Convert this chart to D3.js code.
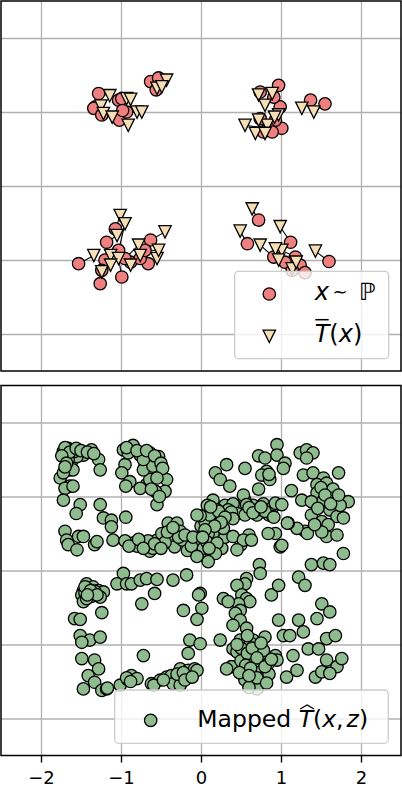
<!DOCTYPE html>
<html>
<head>
<meta charset="utf-8">
<script src="https://cdn.jsdelivr.net/npm/d3@7"></script>
<style>
  body { margin: 0; background: #fff; }
  svg { display: block; font-family: "DejaVu Sans", sans-serif; }
</style>
</head>
<body>
<div id="main"></div>
<script>
// ticks shared by both panels
const xTicks = [-2, -1, 0, 1, 2];
const yTicks = [-2, -1, 0, 1, 2];

// x ~ P, one row per sample
const samples = [
  [-1.28,1.25],[-1.32,1.07],[-1.34,1.05],[-1.24,0.96],[-1.03,1.16],[-0.99,1.18],[-1.02,0.89],[-0.93,1.00],[-0.98,1.02],[-0.63,1.41],[-0.53,1.46],[-0.56,1.30],
  [0.74,1.27],[0.97,1.36],[0.99,1.07],[1.01,0.78],[0.74,0.91],[1.37,1.16],[1.55,1.11],[0.91,1.20],[0.93,0.89],[0.84,0.78],[0.78,0.73],[0.89,0.73],
  [-1.53,-1.05],[-1.26,-1.32],[-1.07,-0.58],[-1.18,-0.76],[-1.20,-1.00],[-0.99,-1.23],[-0.88,-1.03],[-0.66,-1.05],[-0.63,-0.73],[-1.24,-1.14],[-1.03,-0.87],[-0.95,-0.98],[-0.76,-0.98],[-0.70,-0.87],
  [0.72,-0.46],[0.58,-0.78],[1.12,-0.76],[0.91,-0.96],[1.18,-0.96],[1.60,-1.02],[1.05,-1.03],[1.24,-1.07],[1.14,-1.14],[1.30,-1.17]
];

// T(x), same order as samples
const mapped = [
  [-1.14,1.22],[-1.25,1.08],[-1.22,0.98],[-1.11,0.93],[-0.93,1.18],[-0.88,1.17],[-0.91,0.82],[-0.80,1.00],[-0.74,1.00],[-0.55,1.32],[-0.43,1.43],[-0.49,1.34],
  [0.72,1.23],[0.89,1.25],[0.97,0.96],[0.83,0.82],[0.72,0.89],[1.26,1.05],[1.41,1.00],[0.80,1.09],[0.92,0.93],[0.55,0.82],[0.68,0.71],[0.80,0.71],
  [-1.34,-0.94],[-1.24,-1.16],[-1.01,-0.40],[-1.05,-0.67],[-1.13,-0.94],[-1.03,-0.98],[-0.88,-1.07],[-0.55,-0.98],[-0.45,-0.62],[-1.13,-1.07],[-0.95,-0.51],[-0.78,-0.80],[-0.76,-0.94],[-0.53,-0.87],
  [0.64,-0.31],[0.49,-0.61],[0.99,-0.55],[0.74,-0.80],[1.01,-0.87],[1.43,-0.88],[0.93,-0.85],[0.97,-1.00],[1.14,-1.12],[1.19,-1.03]
];

// T(x, z), bottom panel
const generated = [
  [-1.72,1.61],[-1.66,1.65],[-1.60,1.63],[-1.53,1.59],[-1.47,1.56],[-1.37,1.63],[-1.28,1.50],[-1.26,1.36],[-1.62,1.47],[-1.64,1.36],[-1.60,1.36],[-1.76,1.25],[-1.72,1.32],[-1.64,1.14],[-1.70,1.11],[-1.72,0.95],[-1.51,0.89],[-1.56,0.77],[-1.26,0.89],[-1.22,0.71],[-1.12,0.68],[-1.12,0.59],[-0.94,0.72],[-1.70,0.53],[-1.68,0.41],[-1.66,0.35],[-1.55,0.28],[-1.53,0.46],[-1.47,0.46],[-1.33,0.35],[-1.30,0.39],[-1.10,0.41],[-1.68,1.59],[-1.62,1.56],[-1.55,1.54],[-1.66,1.50],[-1.58,1.61],[-1.60,1.14],
  [-1.70,1.66],[-1.64,1.60],[-1.56,1.65],[-1.50,1.62],[-1.42,1.60],[-1.34,1.58],[-1.74,1.55],[-1.68,1.45],[-1.70,1.40],
  [-0.97,1.63],[-0.85,1.69],[-0.95,1.43],[-0.99,1.32],[-0.89,1.20],[-0.94,1.14],[-0.76,1.56],[-0.70,1.45],[-0.64,1.59],[-0.60,1.47],[-0.53,1.54],[-0.60,1.34],[-0.51,1.32],[-0.43,1.23],[-0.45,1.07],[-0.57,1.07],[-0.55,0.89],[-0.68,1.16],[-0.76,1.11],[-0.64,1.23],[-0.72,1.36],[-0.60,1.41],[-0.91,1.59],[-0.72,1.50],
  [-0.93,1.66],[-0.80,1.62],[-0.68,1.62],[-0.58,1.55],[-0.50,1.45],[-0.48,1.38],[-0.55,1.25],[-0.62,1.10],[-0.52,1.00],
  [-0.85,0.37],[-0.76,0.37],[-0.70,0.35],[-0.64,0.26],[-0.55,0.41],[-0.49,0.50],[-0.41,0.64],[-0.30,0.64],[-0.26,0.53],[-0.39,0.44],[-0.33,0.32],[-0.16,0.41],[-0.05,0.41],[-0.01,0.21],[0.03,0.30],[0.07,0.41],[0.05,0.73],[-0.23,0.41],[-0.17,0.27],[0.08,0.45],
  [-0.80,0.33],[-0.66,0.40],[-0.60,0.30],[-0.45,0.38],[-0.28,0.45],[-0.12,0.33],[0.00,0.60],[0.12,0.65],[0.30,0.88],[0.45,0.86],[0.55,0.95],[0.70,0.75],[0.12,0.40],[0.26,0.30],
  [-0.95,0.40],[-0.90,0.33],[-0.78,0.42],[-0.72,0.30],[-0.58,0.36],[-0.50,0.30],[-0.42,0.52],[-0.35,0.58],[-0.20,0.48],[-0.10,0.45],[0.15,0.50],[0.30,0.45],[0.50,0.35],[0.60,0.48],[0.05,0.66],[0.25,0.78],[0.40,0.90],[0.65,0.88],[0.78,0.90],[0.85,0.75],
  [0.95,1.70],[0.72,1.55],[0.80,1.52],[0.95,1.56],[1.05,1.45],[1.03,1.38],[0.82,1.34],[0.76,1.29],[0.86,1.23],[0.72,1.10],[0.55,1.38],[0.32,1.43],[0.18,1.32],[0.24,1.23],[0.36,1.14],[1.24,1.59],[1.32,1.63],[1.40,1.59],[1.32,1.52],[1.28,1.29],[1.40,1.32],[1.53,1.25],[1.72,1.32],[1.45,1.16],[1.57,1.18],[1.61,1.07],[1.45,1.05],[1.13,1.08],[1.26,0.95],[1.38,0.93],[1.53,0.95],[1.68,0.95],[1.84,0.93],[1.61,0.82],[1.70,0.73],[1.78,0.71],[1.38,0.75],[1.51,0.66],[1.59,0.62],[1.57,0.46],[1.70,0.48],[1.30,0.53],[1.20,0.57],[1.09,0.64],[0.99,0.32],[0.93,0.50],[0.84,0.50],
  [0.15,0.95],[0.20,0.82],[0.34,0.82],[0.11,0.75],[-0.01,0.74],[-0.05,0.75],[0.53,1.02],[0.57,0.89],[0.70,0.82],[0.45,0.77],[0.55,0.75],[0.90,0.86],[0.93,0.91],[0.90,0.73],[1.01,0.89],[0.80,0.80],[0.28,0.57],[0.09,0.50],[0.07,0.39],[0.20,0.37],[0.40,0.46],[0.53,0.41],[0.63,0.41],[0.45,0.28],[-0.05,0.19],[0.18,0.23],[0.09,0.12],
  [0.73,0.08],[1.38,0.08],[1.53,0.10],[1.61,0.08],[1.78,0.23],
  [0.22,0.80],[0.38,0.79],[0.60,0.85],[0.65,0.78],[0.75,0.86],[0.40,0.70],[0.30,0.72],[1.65,1.10],[1.50,1.12],[1.66,0.98],[1.74,0.88],[0.85,1.30],[0.08,0.88],[0.12,0.86],[0.25,0.65],[0.17,0.60],[0.05,0.55],[0.02,0.45],[0.10,0.30],
  [1.33,0.50],[1.51,0.52],[1.01,0.34],[0.91,0.72],[1.08,0.64],
  [1.55,1.02],[1.62,0.90],[1.46,0.84],[1.72,1.02],[1.42,0.62],
  [-0.97,-0.04],[-1.05,-0.18],[-0.93,-0.18],[-0.87,-0.18],[-0.76,-0.13],[-0.68,-0.11],[-0.55,-0.12],[-0.58,-0.31],[-0.74,-0.45],[-0.35,-0.13],[-0.18,-0.06],[-0.01,-0.31],[0.01,-0.51],[-0.05,-0.66],[-0.22,-0.54],[-1.43,-0.18],[-1.35,-0.22],[-1.47,-0.27],[-1.49,-0.33],[-1.39,-0.31],[-1.28,-0.27],[-1.22,-0.29],[-1.26,-0.36],[-1.47,-0.42],[-1.24,-0.57],[-1.58,-0.65],[-1.51,-0.66],[-1.51,-0.88],[-1.39,-0.94],[-1.26,-0.90],[-1.49,-0.97],[-1.49,-1.19],[-1.33,-1.21],[-1.28,-1.33],[-1.41,-1.42],[-1.33,-1.51],[-1.47,-1.60],[-1.24,-1.62],[-1.18,-1.60],[-1.01,-1.55],[-0.91,-1.48],[-0.87,-1.42],[-0.80,-1.46],[-0.72,-1.15],[-0.62,-1.53],[-0.51,-1.48],[-0.43,-1.44],[-0.37,-1.42],[-0.28,-1.46],[-0.26,-1.33],[-0.16,-1.35],[-0.08,-1.33],[-0.16,-1.12],[-0.14,-0.94],[-0.01,-0.99],[-0.35,-1.53],[-0.26,-1.55],
  [-1.41,-0.25],[-1.45,-0.30],[-1.37,-0.35],[-1.33,-0.28],[-1.43,-0.38],[-0.93,-1.45],[-0.88,-1.50],[-0.30,-1.40],[-0.22,-1.38],[-0.20,-1.48],[-1.17,-1.59],[-0.59,-1.55],[-0.47,-1.48],[-0.05,-1.35],[-0.11,-1.44],[-0.03,-0.33],
  [-1.45,-0.22],[-1.38,-0.27],[-1.30,-0.33],[-1.42,-0.33],
  [0.74,-0.04],[0.57,-0.11],[0.55,-0.18],[0.45,-0.20],[0.51,-0.33],[0.57,-0.38],[0.61,-0.42],[0.47,-0.45],[0.28,-0.38],[0.34,-0.42],[0.49,-0.54],[0.43,-0.58],[0.49,-0.67],[0.57,-0.78],[0.40,-0.74],[0.24,-0.94],[0.40,-1.06],[0.49,-0.94],[0.59,-1.06],[0.65,-0.94],[0.72,-1.03],[0.80,-0.90],[0.76,-1.19],[0.84,-1.26],[0.70,-1.30],[0.59,-1.35],[0.45,-1.30],[0.38,-1.30],[0.32,-1.33],[0.53,-1.42],[0.63,-1.44],[0.93,-1.15],[0.95,-1.21],[1.07,-1.44],[1.20,-1.35],[1.15,-1.15],[1.03,-0.88],[1.11,-0.88],[0.97,-0.67],[0.88,-0.33],[0.97,-0.20],[1.22,-0.09],[1.30,-0.20],[1.22,-0.67],[1.28,-0.83],[1.45,-0.65],[1.51,-0.45],[1.61,-0.56],[1.57,-0.92],[1.68,-0.88],[1.34,-1.06],[1.47,-1.06],[1.57,-1.21],[1.70,-1.30],[1.76,-1.19],[1.43,-1.44],[1.51,-1.37],[1.61,-1.39],
  [0.55,-1.00],[0.62,-0.98],[0.68,-1.10],[0.52,-1.15],[0.60,-1.20],[0.66,-1.25],[0.78,-1.08],[0.45,-1.10],[0.50,-1.22],[0.72,-1.38],[0.55,-1.48],[0.66,-1.52],[0.78,-1.45],[0.85,-1.40],[0.70,-1.60],[0.60,-1.58],
  [0.50,-1.05],[0.58,-1.12],[0.64,-1.05],[0.70,-1.18],[0.56,-1.28],[0.62,-1.32],[0.48,-1.38],[0.70,-1.45],[0.60,-1.42],[0.80,-1.30],[0.88,-1.20],[0.75,-0.98],[0.45,-1.00],[0.82,-1.52],[0.58,-0.88]
];

const width = 402, height = 787;
const panelLeft = 1, panelRight = 401;
const panels = [{top: 1, bottom: 371}, {top: 385.5, bottom: 755.5}];
const R = 6.2;

const svg = d3.select("#main").append("svg")
  .attr("width", width)
  .attr("height", height);

svg.append("rect").attr("width", width).attr("height", height).attr("fill", "#fff");

const xScale = d3.scaleLinear().domain([-2.5, 2.5]).range([panelLeft, panelRight]);

function makePanel(p, i) {
  const yScale = d3.scaleLinear().domain([-2.5, 2.5]).range([p.bottom, p.top]);
  const g = svg.append("g");

  svg.append("clipPath").attr("id", "clip" + i)
    .append("rect")
    .attr("x", panelLeft).attr("y", p.top)
    .attr("width", panelRight - panelLeft).attr("height", p.bottom - p.top);

  // grid
  g.append("g")
    .attr("transform", "translate(0," + p.bottom + ")")
    .call(d3.axisBottom(xScale).tickValues(xTicks).tickSize(-(p.bottom - p.top)).tickFormat(""))
    .call(a => a.select(".domain").remove())
    .selectAll("line").attr("stroke", "#b0b0b0").attr("stroke-width", 1.3);
  g.append("g")
    .attr("transform", "translate(" + panelLeft + ",0)")
    .call(d3.axisLeft(yScale).tickValues(yTicks).tickSize(-(panelRight - panelLeft)).tickFormat(""))
    .call(a => a.select(".domain").remove())
    .selectAll("line").attr("stroke", "#b0b0b0").attr("stroke-width", 1.3);

  const plot = g.append("g").attr("clip-path", "url(#clip" + i + ")");
  return {g, plot, yScale, p};
}

const tri = "M0," + R + "L" + (-R) + "," + (-R) + "L" + R + "," + (-R) + "Z";

// top panel
const topPanel = makePanel(panels[0], 0);

topPanel.plot.selectAll(".link")
  .data(d3.zip(samples, mapped))
  .enter().append("line")
  .attr("x1", d => xScale(d[0][0])).attr("y1", d => topPanel.yScale(d[0][1]))
  .attr("x2", d => xScale(d[1][0])).attr("y2", d => topPanel.yScale(d[1][1]))
  .attr("stroke", "#000").attr("stroke-width", 1.1);

topPanel.plot.selectAll(".src")
  .data(samples)
  .enter().append("circle")
  .attr("cx", d => xScale(d[0]))
  .attr("cy", d => topPanel.yScale(d[1]))
  .attr("r", R)
  .attr("fill", "#f08080").attr("stroke", "#000").attr("stroke-width", 1.3);

topPanel.plot.selectAll(".dst")
  .data(mapped)
  .enter().append("path")
  .attr("d", tri)
  .attr("transform", d => "translate(" + xScale(d[0]) + "," + topPanel.yScale(d[1]) + ")")
  .attr("fill", "#f5deb3").attr("stroke", "#000").attr("stroke-width", 1.3);

// bottom panel
const botPanel = makePanel(panels[1], 1);

botPanel.plot.selectAll(".gen")
  .data(generated)
  .enter().append("circle")
  .attr("cx", d => xScale(d[0]))
  .attr("cy", d => botPanel.yScale(d[1]))
  .attr("r", R)
  .attr("fill", "#8fbc8f").attr("stroke", "#000").attr("stroke-width", 1.3);

// x axis under bottom panel
const xAxis = svg.append("g")
  .attr("transform", "translate(0," + panels[1].bottom + ")")
  .call(d3.axisBottom(xScale).tickValues(xTicks).tickFormat(d3.format("d")).tickSize(7).tickPadding(9));
xAxis.select(".domain").remove();
xAxis.selectAll("line").attr("stroke", "#000").attr("stroke-width", 1.4);
xAxis.selectAll("text")
  .style("font-size", "18px").style("font-family", "DejaVu Sans").attr("fill", "#000");

// frames
panels.forEach(p => {
  svg.append("rect")
    .attr("x", panelLeft).attr("y", p.top)
    .attr("width", panelRight - panelLeft).attr("height", p.bottom - p.top)
    .attr("fill", "none").attr("stroke", "#000").attr("stroke-width", 1.5);
});

// legends
function legendBox(x0, y0, x1, y1) {
  svg.append("rect")
    .attr("x", x0).attr("y", y0).attr("width", x1 - x0).attr("height", y1 - y0)
    .attr("rx", 4).attr("ry", 4)
    .attr("fill", "#fff").attr("fill-opacity", 0.8)
    .attr("stroke", "#cccccc").attr("stroke-width", 1.3);
}

legendBox(234.7, 271.3, 388.7, 358.7);
svg.append("circle").attr("cx", 269.3).attr("cy", 294).attr("r", R)
  .attr("fill", "#f08080").attr("stroke", "#000").attr("stroke-width", 1.3);
svg.append("path").attr("d", tri).attr("transform", "translate(269.3,336.3)")
  .attr("fill", "#f5deb3").attr("stroke", "#000").attr("stroke-width", 1.3);

const fs = 24;
svg.append("text").attr("x", 314.7).attr("y", 300.3).attr("font-size", fs)
  .attr("font-style", "italic").text("x");
svg.append("text").attr("x", 340).attr("y", 298).attr("font-size", 18)
  .attr("text-anchor", "middle").text("\u223C");
svg.append("text").attr("x", 359).attr("y", 300.3).attr("font-size", fs)
  .text("\u2119");

const tbar = svg.append("text").attr("x", 314.7).attr("y", 342).attr("font-size", fs);
tbar.append("tspan").attr("font-style", "italic").text("T");
tbar.append("tspan").text("(");
tbar.append("tspan").attr("font-style", "italic").text("x");
tbar.append("tspan").text(")");
svg.append("line").attr("x1", 315.3).attr("x2", 328.7).attr("y1", 319.7).attr("y2", 319.7)
  .attr("stroke", "#000").attr("stroke-width", 1.5);

legendBox(114.7, 690, 388.3, 743.3);
svg.append("circle").attr("cx", 150.7).attr("cy", 720.3).attr("r", R)
  .attr("fill", "#8fbc8f").attr("stroke", "#000").attr("stroke-width", 1.3);

const lab = svg.append("text").attr("x", 197.3).attr("y", 726.7).attr("font-size", 23.5);
lab.append("tspan").text("Mapped\u00A0");
lab.append("tspan").attr("font-style", "italic").text("T");
lab.append("tspan").text("(");
lab.append("tspan").attr("font-style", "italic").text("x");
lab.append("tspan").text(",");
lab.append("tspan").attr("font-style", "italic").attr("dx", 3).text("z");
lab.append("tspan").text(")");

// hat over T
const tBox = lab.node().getExtentOfChar(7);
const hx0 = tBox.x + 1.5, hx1 = tBox.x + tBox.width + 1;
svg.append("path")
  .attr("d", "M" + hx0 + ",709 L" + ((hx0 + hx1) / 2) + ",705 L" + hx1 + ",709")
  .attr("fill", "none").attr("stroke", "#000").attr("stroke-width", 1.3);
</script>
</body>
</html>
